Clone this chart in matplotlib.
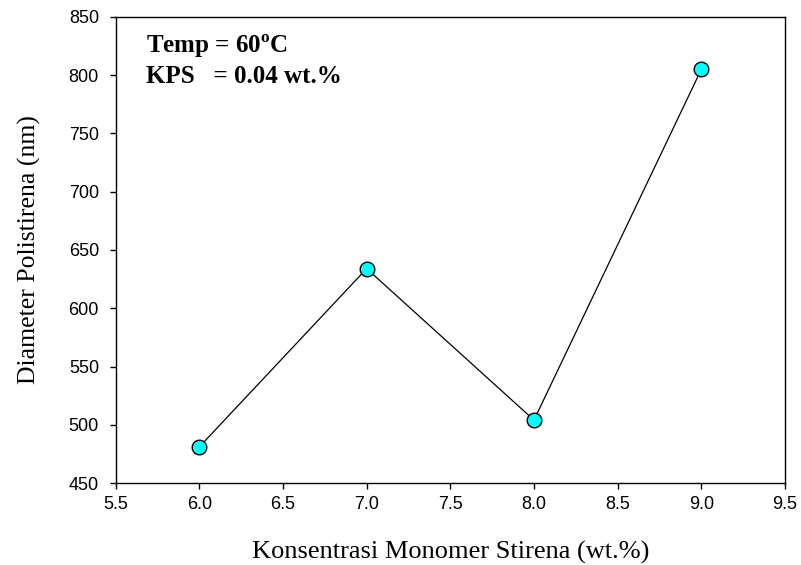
import matplotlib
matplotlib.use('Agg')
import matplotlib.pyplot as plt

# data
konsentrasi = [6.0, 7.0, 8.0, 9.0]
diameter = [481, 634, 504, 805]

xticks = [5.5, 6.0, 6.5, 7.0, 7.5, 8.0, 8.5, 9.0, 9.5]
yticks = [450, 500, 550, 600, 650, 700, 750, 800, 850]

plt.rcParams['mathtext.fontset'] = 'custom'
plt.rcParams['mathtext.bf'] = 'Liberation Serif:bold'
plt.rcParams['mathtext.rm'] = 'Liberation Serif:bold'

fig = plt.figure(figsize=(8.01, 5.65), dpi=100)
ax = fig.add_axes([0.1444, 0.1451, 0.8356, 0.8249])

ax.plot(konsentrasi, diameter, color='black', linewidth=0.9,
        marker='o', markersize=10.5, markerfacecolor='#00FFFF',
        markeredgecolor='black', markeredgewidth=1.0)

ax.set_xlim(5.5, 9.5)
ax.set_ylim(450, 850)
ax.set_xticks(xticks)
ax.set_yticks(yticks)
ax.set_xticklabels([f'{v:.1f}' for v in xticks], family='Liberation Sans', fontsize=13)
ax.set_yticklabels([str(v) for v in yticks], family='Liberation Sans', fontsize=13)
ax.tick_params(direction='out', length=4.5, width=1)
ax.tick_params(axis='x', pad=5)
ax.tick_params(axis='y', pad=7.5)

for s in ax.spines.values():
    s.set_linewidth(1.0)

ax.set_xlabel('Konsentrasi Monomer Stirena (wt.%)', family='Liberation Serif',
              fontsize=19, labelpad=20)
ax.set_ylabel('Diameter Polistirena (nm)', family='Liberation Serif',
              fontsize=18.5, labelpad=20)

ax.text(0.045, 0.923, r'Temp = 60$^{\mathbf{o}}$C', transform=ax.transAxes,
        family='Liberation Serif', fontweight='bold', fontsize=18, va='baseline')
ax.text(0.045, 0.859, 'KPS   = 0.04 wt.%', transform=ax.transAxes,
        family='Liberation Serif', fontweight='bold', fontsize=18, va='baseline')

fig.savefig('out.png', dpi=100)
